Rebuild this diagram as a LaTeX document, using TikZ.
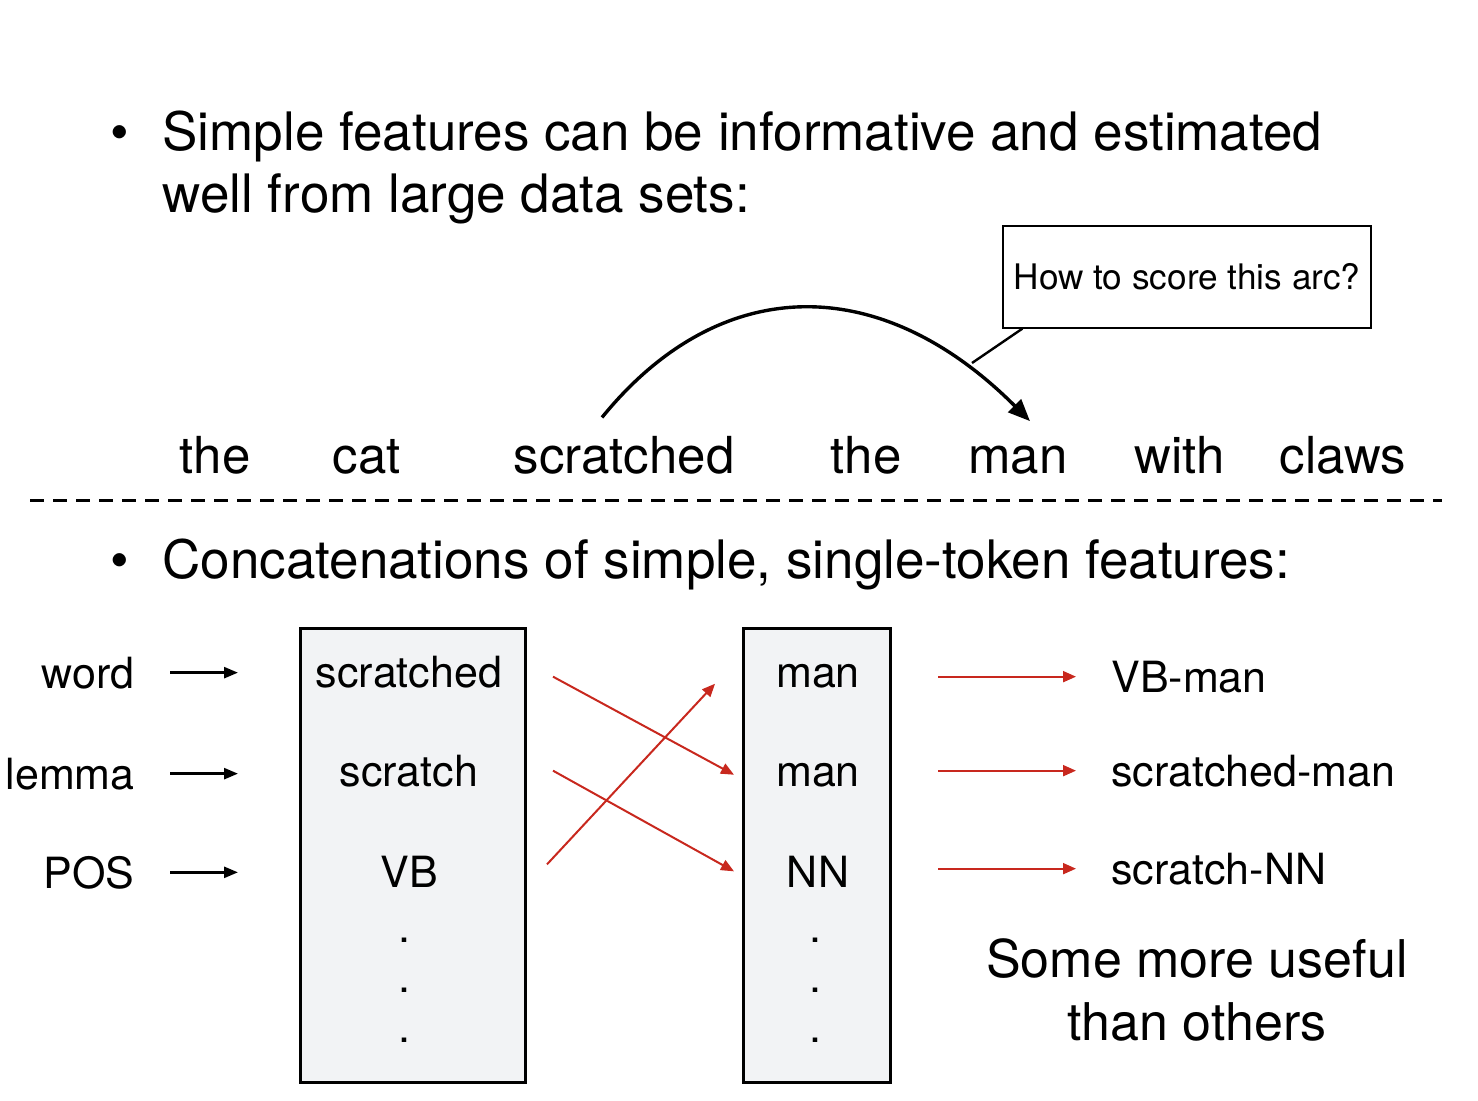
\documentclass[tikz,border=0pt]{standalone}
\usepackage{fontspec}
\setmainfont{TeX Gyre Heros}
\usetikzlibrary{arrows.meta,positioning}
\definecolor{boxgrey}{HTML}{F2F3F5}
\definecolor{arrred}{HTML}{C8281E}
\tikzset{
  big/.style={font=\fontsize{25.5}{31}\selectfont, inner sep=0pt},
  head/.style={font=\fontsize{26.5}{31}\selectfont, inner sep=0pt},
  mid/.style={font=\fontsize{21.5}{26}\selectfont, inner sep=0pt},
  small/.style={font=\fontsize{17.6}{20}\selectfont},
  blkarrow/.style={-{Triangle[length=7pt,width=5.5pt]}, line width=1.3pt},
  redarrow/.style={-{Triangle[length=6.5pt,width=5.5pt]}, line width=1pt, arrred},
  arcarrow/.style={-{Triangle[length=11pt,width=9pt]}, line width=1.7pt},
  featbox/.style={draw, line width=1.5pt, fill=boxgrey, anchor=north west},
}
\begin{document}
\begin{tikzpicture}[x=0.5pt, y=-0.5pt]
  \useasboundingbox (0,0) rectangle (1478,1100);

  % first bullet
  \node[head, anchor=base] (dot1) at (120,150) {\textbullet};
  \node[head, anchor=base west] (line1) at (162,150) {Simple features can be informative and estimated};
  \node[head, anchor=base west] (line2) at (162,212) {well from large data sets:};

  % sentence
  \foreach \x/\w/\n in {215/the/w1, 367/cat/w2, 624/scratched/w3, 866/the/w4,
                        1018/man/w5, 1180/with/w6, 1343/claws/w7}
    \node[big, anchor=base] (\n) at (\x,473) {\w};

  % the arc and its question
  \draw[arcarrow] ([xshift=-11pt, yshift=9pt]w3.north)
    .. controls +(118,-145) and +(-150,-150) .. ([xshift=6pt, yshift=12pt]w5.north);
  \node[small, draw, line width=0.6pt, minimum width=184pt, minimum height=51pt] (call)
    at (1187,277) {How to score this arc?};
  \coordinate (calltip) at (972,363);
  \draw[line width=1.2pt] ([xshift=10pt]call.south west) -- (calltip);

  % separator
  \draw[line width=1.5pt, dash pattern=on 7pt off 4.5pt] (30,500) -- (1442,500);

  % second bullet
  \node[head, anchor=base] (dot2) at (120,578) {\textbullet};
  \node[head, anchor=base west] (line3) at (162,578) {Concatenations of simple, single-token features:};

  % feature boxes
  \node[featbox, minimum width=112.5pt, minimum height=227pt] (lbox) at (299,627) {};
  \node[featbox, minimum width=73.5pt, minimum height=227pt] (rbox) at (742,627) {};

  \node[mid, anchor=base] (lw) at (409,687) {scratched};
  \node[mid, anchor=base] (ll) at (409,786) {scratch};
  \node[mid, anchor=base] (lp) at (409,887) {VB};
  \node[mid, anchor=base] (rw) at (818,687) {man};
  \node[mid, anchor=base] (rl) at (818,786) {man};
  \node[mid, anchor=base] (rp) at (818,887) {NN};
  \foreach \y [count=\i] in {940,990,1040} {
    \node[mid] (ldot\i) at (404,\y) {.};
    \node[mid] (rdot\i) at (815,\y) {.};
  }

  % feature names
  \node[mid, anchor=base east] (word) at (135,688) {word};
  \node[mid, anchor=base east] (lemma) at (135,789) {lemma};
  \node[mid, anchor=base east] (pos) at (135,888) {POS};
  \foreach \n in {word, lemma, pos}
    \draw[blkarrow] ([xshift=17.5pt]\n.east) -- ([xshift=-30.5pt]\n.east -| lbox.west);

  % pairings
  \draw[redarrow] ([xshift=13pt, yshift=-2.5pt]lw.east -| lbox.east) -- ([xshift=-4pt]rl.west -| rbox.west);
  \draw[redarrow] ([xshift=13pt]ll.east -| lbox.east) -- ([xshift=-4pt]rp.west -| rbox.west);
  \draw[redarrow] ([xshift=10pt, yshift=3.5pt]lp.east -| lbox.east) -- ([xshift=-13.5pt, yshift=-4pt]rw.west -| rbox.west);

  % concatenated features
  \node[mid, anchor=base west] (res1) at (1111,692) {VB-man};
  \node[mid, anchor=base west] (res2) at (1111,786) {scratched-man};
  \node[mid, anchor=base west] (res3) at (1111,884) {scratch-NN};
  \foreach \n in {res1, res2, res3}
    \draw[redarrow] ([xshift=23pt]\n.west -| rbox.east) -- ([xshift=-17.5pt]\n.west);

  \node[font=\fontsize{26}{31.5}\selectfont, inner sep=0pt, align=center] (note)
    at (1197,990) {Some more useful\\than others};
\end{tikzpicture}
\end{document}
